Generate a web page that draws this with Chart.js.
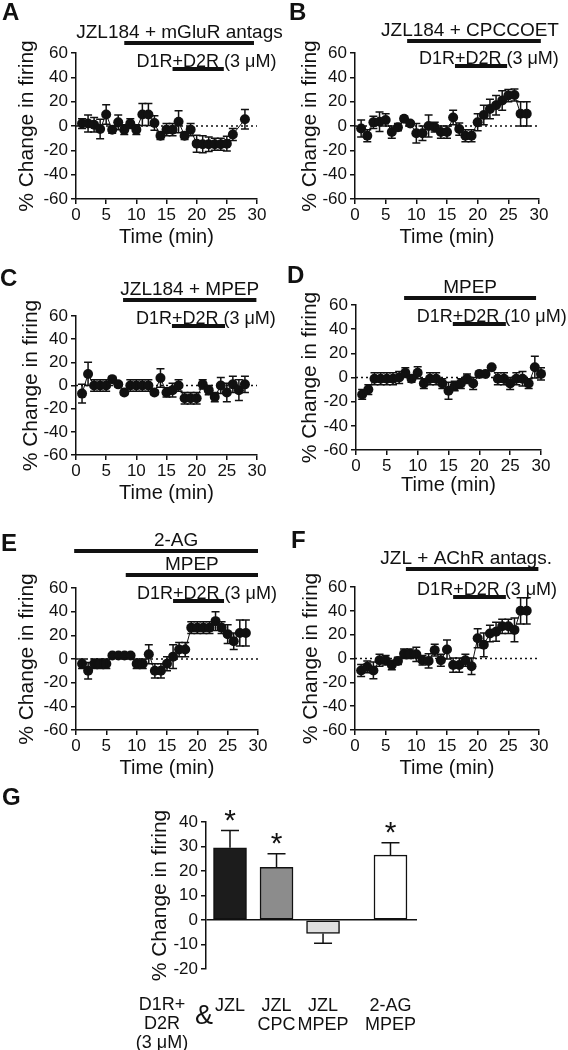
<!DOCTYPE html>
<html>
<head>
<meta charset="utf-8">
<script src="https://cdn.jsdelivr.net/npm/chart.js@4.4.1/dist/chart.umd.min.js"></script>
<style>
body { margin: 0; background: #fff; }
#page { position: relative; width: 568px; height: 1050px; overflow: hidden; font-family: 'Liberation Sans', Arial, sans-serif; color: #111; }
canvas { position: absolute; }
.letter { position: absolute; font-weight: bold; font-size: 24px; line-height: 24px; }
.glabel { position: absolute; font-size: 18px; line-height: 19px; text-align: center; }
</style>
</head>
<body>
<div id="page">
  <canvas id="panelA" width="284" height="250" style="left:0px;top:0px"></canvas>
  <canvas id="panelB" width="284" height="250" style="left:284px;top:0px"></canvas>
  <canvas id="panelC" width="284" height="255" style="left:0px;top:250px"></canvas>
  <canvas id="panelD" width="284" height="255" style="left:284px;top:250px"></canvas>
  <canvas id="panelE" width="284" height="275" style="left:0px;top:505px"></canvas>
  <canvas id="panelF" width="284" height="275" style="left:284px;top:505px"></canvas>
  <canvas id="panelG" width="568" height="270" style="left:0px;top:780px"></canvas>

  <div class="letter" style="left:2px;top:0px">A</div>
  <div class="letter" style="left:289px;top:0px">B</div>
  <div class="letter" style="left:0px;top:266px">C</div>
  <div class="letter" style="left:287px;top:263px">D</div>
  <div class="letter" style="left:1px;top:531px">E</div>
  <div class="letter" style="left:291px;top:528px">F</div>
  <div class="letter" style="left:2px;top:785px">G</div>

  <div class="glabel" style="left:122px;top:995px;width:80px">D1R+<br>D2R<br>(3 &#956;M)</div>
  <div class="glabel" style="left:192px;top:1001px;width:24px;font-size:27px;line-height:28px">&amp;</div>
</div>

<script>
Chart.defaults.font.family = "'Liberation Sans', Arial, sans-serif"
Chart.defaults.color = '#111'

// time course panels: minutes, mean % change, sem
var timesA = [1,2,3,4,5,6,7,8,9,10,11,12,13,14,15,16,17,18,19,20,21,22,23,24,25,26,28]
var changeA = [2,2,1,-2.5,9.5,-3,3,-3,2,-3,9.5,9.5,2.5,-8,-3,-3,3.5,-8,-3,-14.5,-15,-15,-15,-15,-14.5,-7,5.5]
var semA = [4,7,6,8,8,3,6,4,4,4,9,9,6,3,5,5,9,3,5,7,7,6,5,5,6,5,8]
var drugsA = [['JZL184 + mGluR antags.', 8, 29.5], ['D1R+D2R (3 \u03bcM)', 16, 24.5]]

var timesB = [1,2,3,4,5,6,7,8,9,10,11,12,13,14,15,16,17,18,19,20,21,22,23,24,25,26,27,28]
var changeB = [-2,-8,3,3.5,5,-5,-1,6,2,-6,-6,0,-1,-5,-5,7,-2.5,-8,-8,3,9,14,17,21,25,25.5,10,10]
var semB = [7,5,5,8,5,5,3,2,2,8,6,9,4,5,5,6,5,5,5,7,8,8,8,8,5,5,10,10]
var drugsB = [['JZL184 + CPCCOET', 8.5, 30.3], ['D1R+D2R (3 \u03bcM)', 16.3, 24.8]]

var timesC = [1,2,3,4,5,6,7,8,9,10,11,12,13,14,15,16,17,18,19,20,21,22,23,24,25,26,27,28]
var changeC = [-7,10,0,0,0,5.5,1,-6,0,0,0,0,-6,6.5,-6,-4,0,-11,-11,-11,1,-4,-10,0,-6,1,-4,1]
var semC = [8,10,5,5,5,2,2,2,5,5,5,5,2,8,4,6,5,5,5,5,4,4,4,7,8,7,9,7]
var drugsC = [['JZL184 + MPEP', 7.8, 29.9], ['D1R+D2R (3 \u03bcM)', 15.9, 24.7]]

var timesD = [1,2,3,4,5,6,7,8,9,10,11,12,13,14,15,16,17,18,19,20,21,22,23,24,25,26,27,28,29,30]
var changeD = [-14,-10,-1,-1,-1,-1,0,4,-1,4,-5,-1,-1,-5,-11,-7,-5,-1,-5,3,3,8.5,-1,-1,-5,-1,-1,-5,8.5,3]
var semD = [4,4,5,5,5,5,5,4,3,5,4,5,5,4,7,4,4,4,5,1,1,1,5,5,5,5,6,4,9,5]
var drugsD = [['MPEP', 7.8, 29.2], ['D1R+D2R (10 \u03bcM)', 15.7, 24.3]]

var timesE = [1,2,3,4,5,6,7,8,9,10,11,12,13,14,15,16,17,18,19,20,21,22,23,24,25,26,27,28]
var changeE = [-4,-10,-4,-4,-4,3,3,3,3,-4,-4,4,-10,-10,-4,2,8,8,26.5,26.5,26.5,26.5,32,26.5,21,15,22,22]
var semE = [4,7,4,4,4,1,1,1,1,4,4,8,6,6,6,10,6,6,5,5,5,5,8,5,8,7,11,11]
var drugsE = [['2-AG', -0.3, 30], ['MPEP', 8.2, 30], ['D1R+D2R (3 \u03bcM)', 16, 24.4]]

var timesF = [1,2,3,4,5,6,7,8,9,10,11,12,13,14,15,16,17,18,19,20,21,22,23,24,25,26,27,28]
var changeF = [-10,-7,-10,-1.5,-1.5,-5.5,-2,4,4,3.5,-1.5,-2,7,-1.5,7.5,-5.5,-5.5,-1.5,-6.5,17,11.5,21,22.5,27,27,24,40,40]
var semF = [5,5,7,5,4,4,3,4,4,6,4,6,5,5,8,6,6,5,7,8,10,7,8,6,6,10,11,11]
var drugsF = [['JZL + AChR antags.', 8.3, 29.9], ['D1R+D2R (3 \u03bcM)', 16, 24.6]]

// summary bars (G)
var gLabels = ['JZL', ['JZL', 'CPC'], ['JZL', 'MPEP'], ['2-AG', 'MPEP']]
var gPos = [1, 2, 3, 4.45]
var gMeans = [29.5, 21.5, -5.5, 26.5]
var gSems = [7, 5.5, 4, 5]
var gSig = [true, true, false, true]
var gColors = ['#1c1c1c', '#8c8c8c', '#e0e0e0', '#ffffff']

function drugPlugin(drugs, levels, shifts) {
    return {
        id: 'drugs',
        afterDraw: function(chart) {
            var ctx = chart.ctx, xs = chart.scales.x, top = chart.chartArea.top
            ctx.save()
            ctx.strokeStyle = '#111'
            ctx.fillStyle = '#111'
            ctx.lineWidth = 4
            drugs.forEach(function(d, i) {
                var x1 = xs.getPixelForValue(d[1]), x2 = xs.getPixelForValue(d[2]), y = top + levels[i]
                ctx.beginPath()
                ctx.moveTo(x1, y)
                ctx.lineTo(x2, y)
                ctx.stroke()
                if (d[0].indexOf('D1R') == 0) {
                    ctx.font = "18px 'Liberation Sans', Arial, sans-serif"
                    ctx.textAlign = 'left'
                    ctx.fillText(d[0], x1 - ctx.measureText('D1R').width, y - 2)
                } else {
                    ctx.font = "19px 'Liberation Sans', Arial, sans-serif"
                    ctx.textAlign = 'center'
                    ctx.fillText(d[0], (x1 + x2) / 2 + (shifts[i] || 0), y - 5)
                }
            })
            ctx.restore()
        }
    }
}

function errorPlugin(times, vals, sems) {
    return {
        id: 'errbars',
        afterDatasetsDraw: function(chart) {
            var ctx = chart.ctx, xs = chart.scales.x, ys = chart.scales.y
            ctx.save()
            ctx.strokeStyle = '#111'
            ctx.lineWidth = 1.5
            for (var i = 0; i < times.length; i++) {
                var px = xs.getPixelForValue(times[i])
                var hi = ys.getPixelForValue(vals[i] + sems[i])
                var lo = ys.getPixelForValue(vals[i] - sems[i])
                ctx.beginPath()
                ctx.moveTo(px, hi); ctx.lineTo(px, lo)
                ctx.moveTo(px - 4, hi); ctx.lineTo(px + 4, hi)
                ctx.moveTo(px - 4, lo); ctx.lineTo(px + 4, lo)
                ctx.stroke()
            }
            ctx.restore()
        }
    }
}

// lay: plot box inside the canvas + paddings for titles
function renderTimeCourse(canvas_id, times, vals, sems, drugs, lay) {
    var canvas = document.getElementById(canvas_id)
    var pts = times.map(function(t, i) { return {x: t, y: vals[i]} })
    new Chart(canvas, {
        type: 'line',
        data: {
            datasets: [{
                data: pts,
                borderColor: '#111',
                borderWidth: 1,
                pointRadius: 5,
                pointBackgroundColor: '#111',
                pointBorderColor: '#111',
                pointBorderWidth: 0,
                tension: 0,
                clip: false
            }, {
                data: [{x: 0, y: 0}, {x: 30, y: 0}],
                borderColor: '#111',
                borderWidth: 1.5,
                borderDash: [2, 3],
                pointRadius: 0
            }]
        },
        options: {
            responsive: false,
            animation: false,
            layout: {padding: {left: 0, top: lay.top, right: canvas.width - lay.right, bottom: 0}},
            plugins: {legend: {display: false}, tooltip: {enabled: false}},
            scales: {
                x: {
                    type: 'linear', min: 0, max: 30,
                    ticks: {stepSize: 5, autoSkip: false, font: {size: 17}, color: '#111', padding: 1, maxRotation: 0},
                    grid: {drawOnChartArea: false, tickLength: 5, color: '#111', lineWidth: 1.5},
                    border: {color: '#111', width: 1.5},
                    title: {display: true, text: 'Time (min)', font: {size: 20}, color: '#111', padding: {top: 0, bottom: lay.xPad}},
                    afterFit: function(s) { s.height = canvas.height - lay.bottom }
                },
                y: {
                    min: -60, max: 60,
                    ticks: {stepSize: 20, autoSkip: false, font: {size: 17}, color: '#111', padding: 3},
                    grid: {drawOnChartArea: false, tickLength: 5, color: '#111', lineWidth: 1.5},
                    border: {color: '#111', width: 1.5},
                    title: {display: true, text: '% Change in firing', font: {size: 21}, color: '#111', padding: {top: lay.yPad, bottom: 0}},
                    afterFit: function(s) { s.width = lay.left }
                }
            }
        },
        plugins: [errorPlugin(times, vals, sems), drugPlugin(drugs, lay.levels, lay.shifts || [])]
    })
}

renderTimeCourse('panelA', timesA, changeA, semA, drugsA, {left: 76, top: 53, right: 257, bottom: 199, xPad: 1, yPad: 15, levels: [-10, 16], shifts: [-7]})
renderTimeCourse('panelB', timesB, changeB, semB, drugsB, {left: 71, top: 53, right: 255, bottom: 199, xPad: 1, yPad: 14, levels: [-12, 13], shifts: [-4]})
renderTimeCourse('panelC', timesC, changeC, semC, drugsC, {left: 76, top: 66, right: 257, bottom: 205, xPad: 0, yPad: 19, levels: [-16, 10]})
renderTimeCourse('panelD', timesD, changeD, semD, drugsD, {left: 72, top: 55, right: 257, bottom: 200, xPad: 8, yPad: 14, levels: [-7, 19]})
renderTimeCourse('panelE', timesE, changeE, semE, drugsE, {left: 76, top: 83, right: 258, bottom: 225, xPad: 0, yPad: 15, levels: [-37, -13, 13], shifts: [10, 0]})
renderTimeCourse('panelF', timesF, changeF, semF, drugsF, {left: 71, top: 82, right: 255, bottom: 225, xPad: 0, yPad: 15, levels: [-18, 10], shifts: [-6]})

var barErrPlugin = {
    id: 'barerr',
    afterDatasetsDraw: function(chart) {
        var ctx = chart.ctx, xs = chart.scales.x, ys = chart.scales.y
        ctx.save()
        ctx.strokeStyle = '#111'
        ctx.fillStyle = '#111'
        ctx.lineWidth = 1.5
        ctx.font = "30px 'Liberation Sans', Arial, sans-serif"
        ctx.textAlign = 'center'
        for (var i = 0; i < gPos.length; i++) {
            var px = xs.getPixelForValue(gPos[i])
            var dir = gMeans[i] >= 0 ? 1 : -1
            var base = ys.getPixelForValue(gMeans[i])
            var tip = ys.getPixelForValue(gMeans[i] + dir * gSems[i])
            ctx.beginPath()
            ctx.moveTo(px, base); ctx.lineTo(px, tip)
            ctx.moveTo(px - 9, tip); ctx.lineTo(px + 9, tip)
            ctx.stroke()
            if (gSig[i]) ctx.fillText('*', px, tip - 1)
        }
        ctx.restore()
    }
}

var gCanvas = document.getElementById('panelG')
new Chart(gCanvas, {
    type: 'bar',
    data: {
        datasets: [{
            data: gPos.map(function(p, i) { return {x: p, y: gMeans[i]} }),
            backgroundColor: gColors,
            borderColor: '#111',
            borderWidth: 1.5,
            borderSkipped: false,
            barThickness: 33
        }]
    },
    options: {
        responsive: false,
        animation: false,
        layout: {padding: {left: 0, top: 42, right: 151, bottom: 0}},
        plugins: {legend: {display: false}, tooltip: {enabled: false}},
        scales: {
            x: {
                type: 'linear', min: 0.484, max: 5.02, offset: false,
                afterBuildTicks: function(s) { s.ticks = gPos.map(function(p) { return {value: p} }) },
                ticks: {
                    autoSkip: false, maxRotation: 0, minRotation: 0, padding: 28,
                    font: {size: 18, lineHeight: 1.05}, color: '#111',
                    callback: function(v) { return gLabels[gPos.indexOf(v)] }
                },
                grid: {display: false, drawTicks: false},
                border: {display: false},
                afterFit: function(s) { s.height = 81 }
            },
            y: {
                min: -20, max: 40,
                ticks: {stepSize: 10, autoSkip: false, font: {size: 17}, color: '#111', padding: 3},
                grid: {
                    drawOnChartArea: true, tickLength: 5, lineWidth: 1.5, tickColor: '#111',
                    color: function(c) { return c.tick && c.tick.value === 0 ? '#111' : 'rgba(0,0,0,0)' }
                },
                border: {color: '#111', width: 1.5},
                title: {display: true, text: '% Change in firing', font: {size: 21}, color: '#111', padding: {top: 148, bottom: 0}},
                afterFit: function(s) { s.width = 206 }
            }
        }
    },
    plugins: [barErrPlugin]
})
</script>
</body>
</html>
